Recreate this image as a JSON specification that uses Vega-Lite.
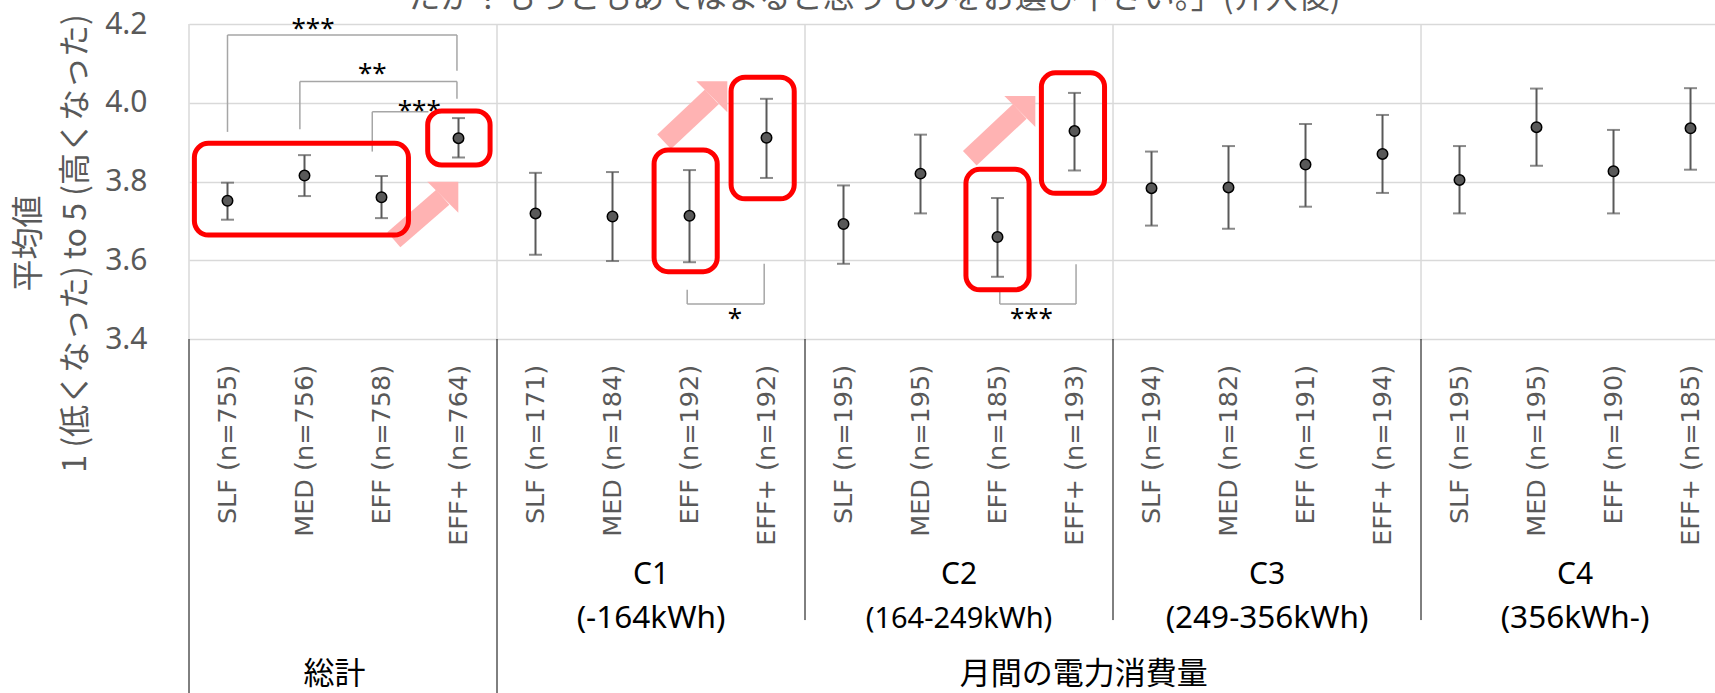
{
  "$schema": "https://vega.github.io/schema/vega-lite/v6.json",
  "autosize": {"type": "none"},
  "padding": {"left": 189, "top": 24, "right": 1526, "bottom": 669},
  "background": "white",
  "bounds": "flush",
  "config": {"view": {"stroke": null}, "concat": {"spacing": 0}},
  "spacing": 0,
  "datasets": {
    "points": [
      {"i": 0, "label": "SLF (n=755)", "mean": 3.751, "lo": 3.703, "hi": 3.797},
      {"i": 1, "label": "MED (n=756)", "mean": 3.815, "lo": 3.763, "hi": 3.867},
      {"i": 2, "label": "EFF (n=758)", "mean": 3.760, "lo": 3.707, "hi": 3.814},
      {"i": 3, "label": "EFF+ (n=764)", "mean": 3.910, "lo": 3.861, "hi": 3.961},
      {"i": 4, "label": "SLF (n=171)", "mean": 3.719, "lo": 3.614, "hi": 3.822},
      {"i": 5, "label": "MED (n=184)", "mean": 3.711, "lo": 3.598, "hi": 3.824},
      {"i": 6, "label": "EFF (n=192)", "mean": 3.713, "lo": 3.595, "hi": 3.829},
      {"i": 7, "label": "EFF+ (n=192)", "mean": 3.911, "lo": 3.809, "hi": 4.010},
      {"i": 8, "label": "SLF (n=195)", "mean": 3.692, "lo": 3.591, "hi": 3.790},
      {"i": 9, "label": "MED (n=195)", "mean": 3.820, "lo": 3.719, "hi": 3.919},
      {"i": 10, "label": "EFF (n=185)", "mean": 3.659, "lo": 3.558, "hi": 3.758},
      {"i": 11, "label": "EFF+ (n=193)", "mean": 3.928, "lo": 3.828, "hi": 4.025},
      {"i": 12, "label": "SLF (n=194)", "mean": 3.783, "lo": 3.688, "hi": 3.876},
      {"i": 13, "label": "MED (n=182)", "mean": 3.785, "lo": 3.680, "hi": 3.890},
      {"i": 14, "label": "EFF (n=191)", "mean": 3.843, "lo": 3.736, "hi": 3.946},
      {"i": 15, "label": "EFF+ (n=194)", "mean": 3.870, "lo": 3.771, "hi": 3.969},
      {"i": 16, "label": "SLF (n=195)", "mean": 3.804, "lo": 3.719, "hi": 3.890},
      {"i": 17, "label": "MED (n=195)", "mean": 3.938, "lo": 3.840, "hi": 4.036},
      {"i": 18, "label": "EFF (n=190)", "mean": 3.826, "lo": 3.719, "hi": 3.931},
      {"i": 19, "label": "EFF+ (n=185)", "mean": 3.935, "lo": 3.830, "hi": 4.037}
    ],
    "heading": [
      {"x": 8.4, "y": 4.2396, "text": "たか？もっともあてはまると思うものをお選び下さい。」(介入後)"}
    ],
    "seps": [
      {"x": -0.5, "kind": "long"},
      {"x": 3.5, "kind": "long"},
      {"x": 7.5, "kind": "short"},
      {"x": 11.5, "kind": "short"},
      {"x": 15.5, "kind": "short"}
    ],
    "boxes": [
      {"x1": -0.43, "x2": 2.35, "y1": 3.664, "y2": 3.897},
      {"x1": 2.60, "x2": 3.41, "y1": 3.842, "y2": 3.979},
      {"x1": 5.54, "x2": 6.36, "y1": 3.571, "y2": 3.880},
      {"x1": 6.54, "x2": 7.36, "y1": 3.756, "y2": 4.065},
      {"x1": 9.59, "x2": 10.41, "y1": 3.525, "y2": 3.831},
      {"x1": 10.57, "x2": 11.39, "y1": 3.770, "y2": 4.076}
    ],
    "arrows": [
      {"x1": 2.16, "y1": 3.652, "x2": 2.796, "y2": 3.760},
      {"x1": 5.67, "y1": 3.901, "x2": 6.29, "y2": 4.015},
      {"x1": 9.64, "y1": 3.859, "x2": 10.29, "y2": 3.978}
    ],
    "brackets": [
      {"x1": 0, "y1": 3.926, "x2": 0, "y2": 4.172},
      {"x1": 0, "y1": 4.172, "x2": 2.98, "y2": 4.172},
      {"x1": 2.98, "y1": 4.172, "x2": 2.98, "y2": 4.081},
      {"x1": 0.94, "y1": 3.933, "x2": 0.94, "y2": 4.054},
      {"x1": 0.94, "y1": 4.054, "x2": 2.98, "y2": 4.054},
      {"x1": 2.98, "y1": 4.054, "x2": 2.98, "y2": 4.010},
      {"x1": 1.88, "y1": 3.876, "x2": 1.88, "y2": 3.977},
      {"x1": 1.88, "y1": 3.977, "x2": 2.61, "y2": 3.977},
      {"x1": 5.97, "y1": 3.525, "x2": 5.97, "y2": 3.489},
      {"x1": 5.97, "y1": 3.489, "x2": 6.97, "y2": 3.489},
      {"x1": 6.97, "y1": 3.489, "x2": 6.97, "y2": 3.591},
      {"x1": 10.03, "y1": 3.521, "x2": 10.03, "y2": 3.489},
      {"x1": 10.03, "y1": 3.489, "x2": 11.02, "y2": 3.489},
      {"x1": 11.02, "y1": 3.489, "x2": 11.02, "y2": 3.590}
    ],
    "stars": [
      {"x": 1.11, "y": 4.166, "t": "***"},
      {"x": 1.88, "y": 4.052, "t": "**"},
      {"x": 2.49, "y": 3.959, "t": "***"},
      {"x": 6.59, "y": 3.430, "t": "*"},
      {"x": 10.44, "y": 3.430, "t": "***"}
    ],
    "groups": [
      {"gx": 5.5, "name": "C1", "range": "(-164kWh)"},
      {"gx": 9.5, "name": "C2", "range": "(164-249kWh)"},
      {"gx": 13.5, "name": "C3", "range": "(249-356kWh)"},
      {"gx": 17.5, "name": "C4", "range": "(356kWh-)"}
    ],
    "sections": [
      {"sx": 1.39, "name": "総計"},
      {"sx": 11.12, "name": "月間の電力消費量"}
    ]
  },
  "vconcat": [
    {
      "width": 1526,
      "height": 315,
      "layer": [
        {
          "data": {"name": "seps"},
          "mark": {"type": "rule", "color": "#d9d9d9", "strokeWidth": 1.5},
          "encoding": {
            "x": {"field": "x", "type": "quantitative", "scale": {"domain": [-0.5, 19.318], "nice": false, "zero": false}, "axis": null}
          }
        },
        {
          "data": {"name": "arrows"},
          "mark": {"type": "rule", "color": "#ffb3b3", "strokeWidth": 20, "strokeCap": "butt"},
          "encoding": {
            "x": {"field": "x1", "type": "quantitative", "axis": null},
            "y": {"field": "y1", "type": "quantitative",
              "scale": {"domain": [3.4, 4.2], "nice": false, "zero": false},
              "axis": {"values": [3.4, 3.6, 3.8, 4.0, 4.2], "format": ".1f", "domain": false, "ticks": false, "labelPadding": 42,
                "labelFont": "Noto Sans", "labelFontSize": 30, "labelColor": "#595959",
                "gridColor": "#d9d9d9", "gridWidth": 1.5,
                "title": ["平均値", "1 (低くなった) to 5 (高くなった)"],
                "titleFont": "Noto Sans CJK JP", "titleFontSize": 32, "titleFontWeight": "normal", "titleColor": "#595959",
                "titleAngle": 270, "titleAlign": "center", "titleBaseline": "top", "titleX": -176, "titleY": 219, "titleLineHeight": 47}},
            "x2": {"field": "x2"},
            "y2": {"field": "y2"}
          }
        },
        {
          "data": {"name": "arrows"},
          "mark": {"type": "point", "shape": "M1,-1L1,1L-1,-1Z", "filled": true, "size": 961, "color": "#ffb3b3", "opacity": 1},
          "encoding": {
            "x": {"field": "x2", "type": "quantitative", "axis": null},
            "y": {"field": "y2", "type": "quantitative"}
          }
        },
        {
          "data": {"name": "brackets"},
          "mark": {"type": "rule", "color": "#a6a6a6", "strokeWidth": 1.5},
          "encoding": {
            "x": {"field": "x1", "type": "quantitative", "axis": null},
            "y": {"field": "y1", "type": "quantitative"},
            "x2": {"field": "x2"},
            "y2": {"field": "y2"}
          }
        },
        {
          "data": {"name": "stars"},
          "mark": {"type": "text", "font": "Noto Sans", "fontSize": 26, "color": "#000000", "align": "center", "baseline": "alphabetic"},
          "encoding": {
            "x": {"field": "x", "type": "quantitative", "axis": null},
            "y": {"field": "y", "type": "quantitative"},
            "text": {"field": "t"}
          }
        },
        {
          "data": {"name": "heading"},
          "mark": {"type": "text", "font": "Noto Sans CJK JP", "fontSize": 32, "color": "#595959", "align": "center", "baseline": "alphabetic"},
          "encoding": {
            "x": {"field": "x", "type": "quantitative", "axis": null},
            "y": {"field": "y", "type": "quantitative"},
            "text": {"field": "text"}
          }
        },
        {
          "data": {"name": "boxes"},
          "mark": {"type": "rect", "fillOpacity": 0, "stroke": "#ff0000", "strokeWidth": 5, "cornerRadius": 14},
          "encoding": {
            "x": {"field": "x1", "type": "quantitative", "axis": null},
            "x2": {"field": "x2"},
            "y": {"field": "y1", "type": "quantitative"},
            "y2": {"field": "y2"}
          }
        },
        {
          "data": {"name": "points"},
          "mark": {"type": "rule", "color": "#595959", "strokeWidth": 2},
          "encoding": {
            "x": {"field": "i", "type": "quantitative", "axis": null},
            "y": {"field": "lo", "type": "quantitative"},
            "y2": {"field": "hi"}
          }
        },
        {
          "data": {"name": "points"},
          "mark": {"type": "tick", "orient": "horizontal", "color": "#595959", "size": 13, "thickness": 2},
          "encoding": {
            "x": {"field": "i", "type": "quantitative", "axis": null},
            "y": {"field": "lo", "type": "quantitative"}
          }
        },
        {
          "data": {"name": "points"},
          "mark": {"type": "tick", "orient": "horizontal", "color": "#595959", "size": 13, "thickness": 2},
          "encoding": {
            "x": {"field": "i", "type": "quantitative", "axis": null},
            "y": {"field": "hi", "type": "quantitative"}
          }
        },
        {
          "data": {"name": "points"},
          "mark": {"type": "point", "shape": "circle", "filled": true, "size": 110, "fill": "#595959", "stroke": "#000000", "strokeWidth": 1.5, "opacity": 1},
          "encoding": {
            "x": {"field": "i", "type": "quantitative", "axis": null},
            "y": {"field": "mean", "type": "quantitative"}
          }
        }
      ]
    },
    {
      "width": 1526,
      "height": 354,
      "layer": [
        {
          "data": {"name": "seps"},
          "transform": [{"filter": "datum.kind == 'long'"}],
          "mark": {"type": "rule", "color": "#000000", "strokeWidth": 1},
          "encoding": {
            "x": {"field": "x", "type": "quantitative", "scale": {"domain": [-0.5, 19.318], "nice": false, "zero": false}, "axis": null},
            "y": {"datum": 0, "type": "quantitative", "scale": {"domain": [0, 100], "reverse": true, "nice": false, "zero": false}, "axis": null},
            "y2": {"datum": 100}
          }
        },
        {
          "data": {"name": "seps"},
          "transform": [{"filter": "datum.kind == 'short'"}],
          "mark": {"type": "rule", "color": "#000000", "strokeWidth": 1},
          "encoding": {
            "x": {"field": "x", "type": "quantitative", "axis": null},
            "y": {"datum": 0, "type": "quantitative", "axis": null},
            "y2": {"datum": 79.4}
          }
        },
        {
          "data": {"name": "points"},
          "mark": {"type": "text", "angle": 270, "align": "right", "baseline": "middle", "font": "DejaVu Sans", "fontSize": 25.5, "color": "#595959"},
          "encoding": {
            "x": {"field": "i", "type": "quantitative", "axis": null},
            "y": {"datum": 7.3, "type": "quantitative", "axis": null},
            "text": {"field": "label"}
          }
        },
        {
          "data": {"name": "groups"},
          "mark": {"type": "text", "align": "center", "baseline": "middle", "font": "Noto Sans", "fontSize": 30, "color": "#000000"},
          "encoding": {
            "x": {"field": "gx", "type": "quantitative", "axis": null},
            "y": {"datum": 66.7, "type": "quantitative", "axis": null},
            "text": {"field": "name"}
          }
        },
        {
          "data": {"name": "groups"},
          "mark": {"type": "text", "align": "center", "baseline": "middle", "font": "Noto Sans", "color": "#000000"},
          "encoding": {
            "x": {"field": "gx", "type": "quantitative", "axis": null},
            "y": {"datum": 79.1, "type": "quantitative", "axis": null},
            "text": {"field": "range"},
            "size": {"condition": {"test": "datum.name == 'C2'", "value": 29}, "value": 31.5}
          }
        },
        {
          "data": {"name": "sections"},
          "mark": {"type": "text", "align": "center", "baseline": "middle", "font": "Noto Sans CJK JP", "fontSize": 31, "color": "#000000"},
          "encoding": {
            "x": {"field": "sx", "type": "quantitative", "axis": null},
            "y": {"datum": 95.0, "type": "quantitative", "axis": null},
            "text": {"field": "name"}
          }
        }
      ]
    }
  ]
}
